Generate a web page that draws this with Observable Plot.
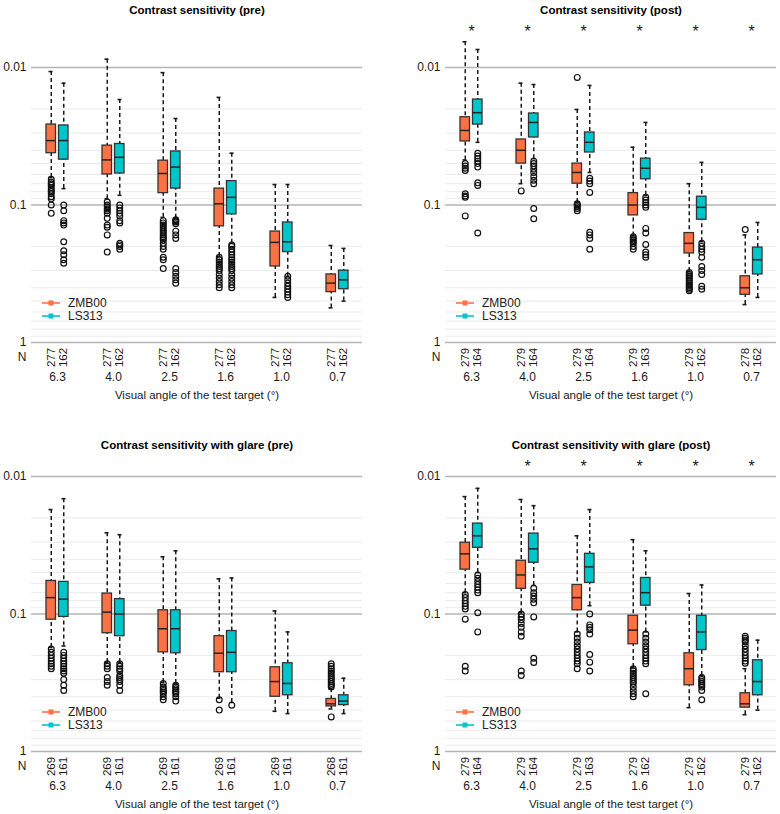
<!DOCTYPE html>
<html><head><meta charset="utf-8">
<script src="https://cdn.jsdelivr.net/npm/d3@7"></script>
<script src="https://cdn.jsdelivr.net/npm/@observablehq/plot@0.6"></script>
<style>
body{margin:0;background:#fff;font-family:"Liberation Sans",Arial,sans-serif;}
#root{position:relative;width:780px;height:814px;overflow:hidden;background:#fff}
.panel{position:absolute}
.legend{position:absolute;left:0;top:0;pointer-events:none}
</style></head><body><div id="root"></div>
<script>
// ---------- data ----------
const categories = ["6.3", "4.0", "2.5", "1.6", "1.0", "0.7"];
const series = ["ZMB00", "LS313"];
const seriesColors = ["#FF7043", "#00C5CD"];
const xLabel = "Visual angle of the test target (°)";
const yMajor = [0.01, 0.1, 1];
const yMinor = [0.02,0.03,0.04,0.05,0.06,0.07,0.08,0.09,0.2,0.3,0.4,0.5,0.6,0.7,0.8,0.9];

// box stats per category: [whisker min, q1, median, q3, whisker max]
// ---- Contrast sensitivity (pre)
const csPre_ZMB00 = [[0.0107,0.026,0.034,0.042,0.063],[0.0087,0.037,0.047,0.06,0.09],[0.0109,0.0476,0.059,0.082,0.123],[0.0165,0.076,0.098,0.143,0.237],[0.071,0.156,0.187,0.28,0.47],[0.197,0.32,0.37,0.43,0.56]];
const csPre_LS313 = [[0.013,0.0264,0.034,0.0468,0.076],[0.0171,0.036,0.045,0.059,0.085],[0.0235,0.0408,0.053,0.076,0.125],[0.042,0.067,0.088,0.117,0.19],[0.071,0.134,0.185,0.22,0.33],[0.207,0.3,0.35,0.41,0.5]];
const csPre_ZMB00_out = [[0.065,0.068,0.07,0.072,0.075,0.078,0.08,0.083,0.087,0.09,0.1,0.115],[0.095,0.1,0.103,0.107,0.11,0.115,0.125,0.14,0.145,0.165,0.22],[0.13,0.135,0.14,0.145,0.15,0.155,0.16,0.165,0.17,0.175,0.18,0.19,0.2,0.21,0.24,0.25,0.29],[0.24,0.25,0.26,0.27,0.28,0.29,0.3,0.32,0.34,0.36,0.38,0.4],[],[]];
const csPre_LS313_out = [[0.1,0.11,0.13,0.135,0.14,0.185,0.215,0.23,0.25,0.265],[0.1,0.105,0.11,0.115,0.12,0.13,0.135,0.19,0.195,0.2,0.21],[0.128,0.13,0.133,0.137,0.155,0.165,0.175,0.29,0.31,0.33,0.35,0.37],[0.195,0.2,0.21,0.22,0.23,0.24,0.25,0.26,0.27,0.28,0.29,0.3,0.32,0.34,0.36,0.38,0.4],[0.33,0.35,0.37,0.39,0.41,0.43,0.45,0.47],[]];
const csPre_N_ZMB00 = [277,277,277,277,277,277];
const csPre_N_LS313 = [162,162,162,162,162,162];
const csPre_sig = [];

// ---- Contrast sensitivity (post)
const csPost_ZMB00 = [[0.0065,0.023,0.0287,0.0345,0.047],[0.013,0.0334,0.04,0.05,0.07],[0.0202,0.05,0.058,0.07,0.096],[0.038,0.082,0.1,0.119,0.168],[0.07,0.16,0.19,0.225,0.305],[0.165,0.33,0.4,0.45,0.53]];
const csPost_LS313 = [[0.0074,0.0171,0.0213,0.026,0.035],[0.0133,0.0216,0.0251,0.0323,0.046],[0.0135,0.0297,0.035,0.0415,0.058],[0.0251,0.046,0.054,0.065,0.085],[0.049,0.087,0.104,0.128,0.185],[0.134,0.204,0.25,0.32,0.47]];
const csPost_ZMB00_out = [[0.05,0.052,0.054,0.056,0.083,0.086,0.088,0.12],[0.079],[0.0118,0.098,0.1,0.103,0.106,0.11],[0.17,0.175,0.18,0.185,0.19,0.2,0.21],[0.31,0.32,0.33,0.34,0.35,0.36,0.37,0.38,0.39,0.4,0.41,0.42],[0.151]];
const csPost_LS313_out = [[0.042,0.044,0.046,0.048,0.05,0.053,0.069,0.072,0.16],[0.048,0.05,0.052,0.055,0.058,0.062,0.066,0.07,0.106,0.126],[0.064,0.067,0.07,0.081,0.158,0.165,0.175,0.21],[0.088,0.092,0.096,0.1,0.104,0.148,0.16,0.194,0.22,0.23,0.24],[0.19,0.2,0.21,0.22,0.24,0.28,0.3,0.32,0.39,0.41],[]];
const csPost_N_ZMB00 = [279,279,279,279,279,278];
const csPost_N_LS313 = [164,164,164,163,162,162];
const csPost_sig = ["6.3","4.0","2.5","1.6","1.0","0.7"];

// ---- Contrast sensitivity with glare (pre)
const glPre_ZMB00 = [[0.0174,0.0575,0.076,0.11,0.175],[0.0257,0.071,0.097,0.138,0.225],[0.0384,0.094,0.128,0.19,0.315],[0.0555,0.145,0.193,0.265,0.41],[0.095,0.244,0.31,0.4,0.51],[0.35,0.415,0.45,0.47,0.49]];
const glPre_LS313 = [[0.0145,0.0584,0.078,0.105,0.171],[0.0265,0.078,0.1,0.145,0.225],[0.0347,0.094,0.128,0.193,0.32],[0.0547,0.133,0.19,0.265,0.44],[0.135,0.228,0.32,0.39,0.53],[0.293,0.39,0.43,0.46,0.53]];
const glPre_ZMB00_out = [[0.18,0.19,0.2,0.21,0.22,0.23,0.24,0.25],[0.23,0.24,0.25,0.29,0.31,0.33],[0.32,0.34,0.35,0.36,0.37,0.38,0.4,0.42],[0.42,0.5],[],[0.23,0.24,0.25,0.26,0.27,0.28,0.29,0.3,0.31,0.32,0.33,0.34,0.56]];
const glPre_LS313_out = [[0.19,0.2,0.21,0.22,0.23,0.24,0.25,0.26,0.27,0.3,0.33,0.36],[0.23,0.24,0.25,0.26,0.28,0.29,0.3,0.31,0.33,0.36],[0.33,0.34,0.35,0.36,0.37,0.38,0.4,0.43],[0.46],[],[]];
const glPre_N_ZMB00 = [269,269,269,269,269,268];
const glPre_N_LS313 = [161,161,161,161,161,161];
const glPre_sig = [];

// ---- Contrast sensitivity with glare (post)
const glPost_ZMB00 = [[0.014,0.0303,0.0365,0.0476,0.07],[0.0147,0.041,0.052,0.0656,0.098],[0.027,0.0615,0.076,0.094,0.135],[0.0288,0.103,0.131,0.166,0.245],[0.071,0.193,0.25,0.33,0.48],[0.25,0.377,0.45,0.48,0.54]];
const glPost_LS313 = [[0.0122,0.022,0.027,0.033,0.05],[0.0163,0.026,0.0336,0.0424,0.062],[0.0174,0.0365,0.0454,0.0594,0.087],[0.0347,0.0547,0.07,0.087,0.135],[0.0615,0.103,0.135,0.183,0.28],[0.155,0.217,0.31,0.39,0.5]];
const glPost_ZMB00_out = [[0.072,0.076,0.08,0.084,0.088,0.092,0.109,0.24,0.26],[0.1,0.105,0.11,0.117,0.125,0.135,0.145,0.26,0.28],[0.14,0.15,0.16,0.17,0.18,0.19,0.2,0.21,0.22,0.23,0.25],[0.25,0.26,0.27,0.28,0.29,0.3,0.31,0.32,0.34,0.36,0.38,0.4],[],[0.145,0.15,0.155,0.16,0.17,0.18,0.19,0.2,0.21,0.22,0.228]];
const glPost_LS313_out = [[0.052,0.055,0.058,0.061,0.064,0.067,0.07,0.098,0.135],[0.065,0.07,0.074,0.078,0.083,0.105,0.21,0.225],[0.1,0.12,0.125,0.13,0.14,0.197,0.224,0.26],[0.14,0.15,0.16,0.17,0.18,0.19,0.2,0.21,0.22,0.23,0.38],[0.29,0.3,0.31,0.32,0.33,0.34,0.36,0.42],[]];
const glPost_N_ZMB00 = [279,279,279,279,279,279];
const glPost_N_LS313 = [164,164,163,162,162,162];
const glPost_sig = ["4.0","2.5","1.6","1.0","0.7"];

const panels = [
  {title:"Contrast sensitivity (pre)", stats:[csPre_ZMB00,csPre_LS313], outs:[csPre_ZMB00_out,csPre_LS313_out], ns:[csPre_N_ZMB00,csPre_N_LS313], sig:csPre_sig, left:0, top:0, titleDy:-57, starDy:-36},
  {title:"Contrast sensitivity (post)", stats:[csPost_ZMB00,csPost_LS313], outs:[csPost_ZMB00_out,csPost_LS313_out], ns:[csPost_N_ZMB00,csPost_N_LS313], sig:csPost_sig, left:414, top:0, titleDy:-57, starDy:-36},
  {title:"Contrast sensitivity with glare (pre)", stats:[glPre_ZMB00,glPre_LS313], outs:[glPre_ZMB00_out,glPre_LS313_out], ns:[glPre_N_ZMB00,glPre_N_LS313], sig:glPre_sig, left:0, top:409, titleDy:-31, starDy:-10},
  {title:"Contrast sensitivity with glare (post)", stats:[glPost_ZMB00,glPost_LS313], outs:[glPost_ZMB00_out,glPost_LS313_out], ns:[glPost_N_ZMB00,glPost_N_LS313], sig:glPost_sig, left:414, top:409, titleDy:-31, starDy:-10}
];

// ---------- drawing ----------
const root = document.getElementById("root");
const W = 366, H = 405;
const fmt = d => d3.format("~g")(d);

function drawPanel(p) {
  const rows = [], outRows = [];
  series.forEach((s, si) => categories.forEach((c, ci) => {
    const [wmin, q1, med, q3, wmax] = p.stats[si][ci];
    rows.push({cat: c, s, wmin, q1, med, q3, wmax, n: p.ns[si][ci]});
    p.outs[si][ci].forEach(v => outRows.push({cat: c, s, v}));
  }));
  const mid = {lineAnchor: "middle"};
  const marks = [
    Plot.ruleY(yMinor, {y: d => d, stroke: "#ebebeb", strokeWidth: 1}),
    Plot.ruleY(yMajor, {y: d => d, stroke: "#b5b5b5", strokeWidth: 1.7}),
    Plot.text(yMajor, {y: d => d, text: d => fmt(d), frameAnchor: "left", dx: -5, textAnchor: "end", fontSize: 12, ...mid}),
    Plot.text([p.title], {text: d => d, frameAnchor: "top", dy: p.titleDy, fontWeight: "bold", fill: "#000", ...mid}),
    Plot.text(p.sig, {x: d => d, text: () => "*", frameAnchor: "top", dy: p.starDy, fontSize: 16, ...mid}),
    Plot.text(categories, {x: d => d, text: d => d, frameAnchor: "bottom", dy: 35, fontSize: 12, ...mid}),
    Plot.text(["N"], {text: d => d, frameAnchor: "bottom-left", dx: -5, dy: 15, textAnchor: "end", fontSize: 12, ...mid}),
    Plot.text([xLabel], {text: d => d, frameAnchor: "bottom", dy: 53, ...mid})
  ];
  series.forEach((s, si) => {
    const d = rows.filter(r => r.s === s);
    const o = outRows.filter(r => r.s === s);
    const dx = si === 0 ? -6.25 : 6.25;
    const inset = si === 0 ? {insetRight: 12.5} : {insetLeft: 12.5};
    const capInset = si === 0 ? {insetLeft: 2.5, insetRight: 15.5} : {insetLeft: 15.5, insetRight: 2.5};
    const wh = {stroke: "#1a1a1a", strokeWidth: 1.5, strokeDasharray: "4,3"};
    marks.push(
      Plot.ruleX(d, {x: "cat", y1: "wmin", y2: "q1", dx, ...wh}),
      Plot.ruleX(d, {x: "cat", y1: "wmax", y2: "q3", dx, ...wh}),
      Plot.tickY(d, {x: "cat", y: "wmin", ...capInset, stroke: "#1a1a1a", strokeWidth: 1.6}),
      Plot.tickY(d, {x: "cat", y: "wmax", ...capInset, stroke: "#1a1a1a", strokeWidth: 1.6}),
      Plot.barY(d, {x: "cat", y1: "q1", y2: "q3", fill: seriesColors[si], stroke: "#333", strokeWidth: 1.3, ...inset}),
      Plot.tickY(d, {x: "cat", y: "med", ...inset, stroke: "#222", strokeWidth: 1.5}),
      Plot.dot(o, {x: "cat", y: "v", dx, r: 2.9, stroke: "#111", strokeWidth: 1.2, fill: "none"}),
      Plot.text(d, {x: "cat", text: r => String(r.n), frameAnchor: "bottom", dy: 15, dx, rotate: -90, fontSize: 11.5, ...mid})
    );
  });
  const svg = Plot.plot({
    width: W, height: H,
    marginLeft: 31, marginRight: 4, marginTop: 67, marginBottom: 63,
    x: {type: "band", domain: categories, paddingInner: 0.611, paddingOuter: 0.23, axis: null},
    y: {type: "log", domain: [0.01, 1], range: [67, 342], axis: null},
    style: {fontFamily: "'Liberation Sans', Arial, sans-serif", fontSize: "11.5px", color: "#1a1a1a", background: "transparent", overflow: "visible"},
    marks
  });
  const wrap = document.createElement("div");
  wrap.className = "panel";
  wrap.style.left = p.left + "px";
  wrap.style.top = p.top + "px";
  wrap.appendChild(svg);
  // legend
  const ns = "http://www.w3.org/2000/svg";
  const lg = document.createElementNS(ns, "svg");
  lg.setAttribute("class", "legend");
  lg.setAttribute("width", W); lg.setAttribute("height", H);
  series.forEach((s, si) => {
    const y = 303 + si * 13;
    const line = document.createElementNS(ns, "line");
    line.setAttribute("x1", 42); line.setAttribute("x2", 60);
    line.setAttribute("y1", y); line.setAttribute("y2", y);
    line.setAttribute("stroke", seriesColors[si]); line.setAttribute("stroke-width", 1.6);
    lg.appendChild(line);
    const sq = document.createElementNS(ns, "rect");
    sq.setAttribute("x", 48.5); sq.setAttribute("y", y - 2.5);
    sq.setAttribute("width", 5); sq.setAttribute("height", 5);
    sq.setAttribute("fill", seriesColors[si]);
    lg.appendChild(sq);
    const t = document.createElementNS(ns, "text");
    t.setAttribute("x", 68); t.setAttribute("y", y);
    t.setAttribute("dy", "0.35em");
    t.setAttribute("font-family", "'Liberation Sans', Arial, sans-serif");
    t.setAttribute("font-size", "12px");
    t.setAttribute("fill", "#222");
    t.textContent = s;
    lg.appendChild(t);
  });
  wrap.appendChild(lg);
  root.appendChild(wrap);
}
panels.forEach(drawPanel);
</script></body></html>
